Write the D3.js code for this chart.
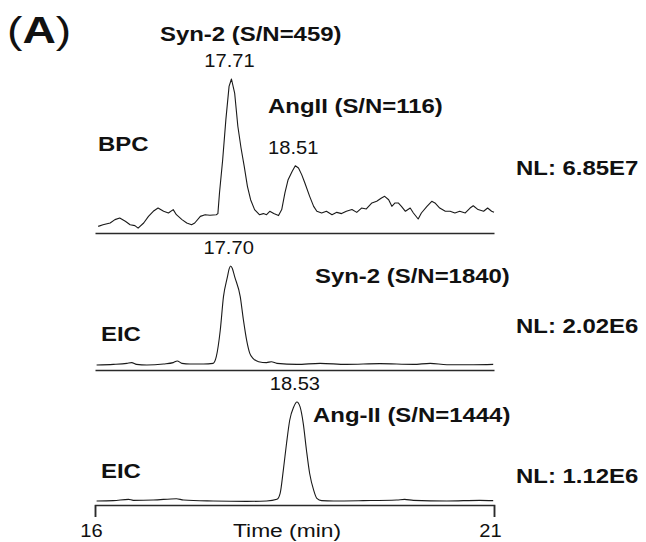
<!DOCTYPE html>
<html>
<head>
<meta charset="utf-8">
<script src="https://cdn.jsdelivr.net/npm/d3@7"></script>
<style>
  html, body { margin: 0; padding: 0; background: #fff; }
  svg { display: block; }
  text { font-family: "Liberation Sans", Arial, Helvetica, sans-serif; fill: #111; }
</style>
</head>
<body>
<svg id="chart" width="646" height="542"></svg>
<script>
// Retention time (min) and relative intensity (%) for each chromatogram trace
const bpcTime = [16.04,16.10,16.19,16.25,16.31,16.38,16.44,16.50,16.54,16.61,16.67,16.73,16.79,16.86,16.92,16.98,17.02,17.09,17.15,17.21,17.25,17.32,17.38,17.44,17.52,17.54,17.56,17.60,17.64,17.68,17.71,17.75,17.79,17.83,17.87,17.91,17.95,18.00,18.06,18.11,18.15,18.19,18.24,18.30,18.34,18.38,18.42,18.47,18.51,18.55,18.59,18.63,18.69,18.74,18.78,18.84,18.90,18.97,19.03,19.09,19.15,19.22,19.28,19.34,19.40,19.47,19.53,19.59,19.63,19.68,19.72,19.76,19.80,19.84,19.89,19.95,19.99,20.05,20.09,20.16,20.22,20.26,20.32,20.39,20.45,20.51,20.57,20.64,20.70,20.74,20.80,20.87,20.92,20.97,21.00];
const bpcInt  = [4.3,5.4,6.5,8.7,9.7,7.6,5.4,4.8,3.2,6.5,10.8,14.1,16.2,14.1,13.0,15.2,11.9,8.7,6.5,5.4,6.5,10.8,11.9,11.5,11.9,12.6,26.0,47.6,73.6,95.2,100,90.9,69.3,55.2,43.3,30.3,21.6,15.2,11.9,12.6,11.9,14.1,12.6,11.3,15.2,26.0,34.6,40.0,43.7,42.2,37.9,32.5,23.8,17.3,14.1,13.0,14.1,11.9,13.4,12.6,14.1,15.2,13.4,16.2,15.6,19.5,20.6,22.7,23.8,21.6,17.3,19.5,19.5,17.3,14.1,16.2,13.0,9.1,13.0,17.3,20.6,19.5,16.2,14.1,14.1,13.0,14.1,13.0,16.2,17.7,15.2,14.1,16.2,14.1,13.4];

const eicSynTime = [16.02,16.23,16.40,16.46,16.52,16.65,16.86,16.98,17.03,17.09,17.19,17.36,17.48,17.52,17.57,17.61,17.66,17.68,17.70,17.72,17.75,17.82,17.86,17.90,17.94,17.98,18.05,18.15,18.21,18.28,18.53,18.82,19.15,19.57,19.99,20.20,20.41,20.74,20.99];
const eicSynInt  = [4.8,5.4,6.4,7.1,5.4,4.8,5.8,7.1,8.7,6.4,5.8,5.8,6.4,12.8,38.5,70.5,89.7,97.0,100,97.8,89.7,70.5,48.1,28.8,16.0,11.2,8.0,7.1,8.0,6.4,5.4,6.4,5.4,6.1,5.4,6.4,5.1,5.1,5.4];

const eicAngTime = [16.02,16.23,16.42,16.48,16.73,17.02,17.11,17.48,17.90,18.15,18.28,18.32,18.36,18.40,18.44,18.49,18.53,18.57,18.61,18.65,18.69,18.74,18.78,18.84,18.99,19.36,19.78,19.88,19.99,20.41,20.82,20.99];
const eicAngInt  = [3.9,4.2,5.5,4.5,4.8,6.1,4.8,3.9,3.5,3.9,5.5,11.3,33.9,59.7,82.3,95.2,100,95.2,79.0,53.2,30.6,14.5,6.5,4.2,3.9,4.2,4.8,5.5,4.5,3.9,4.5,4.2];

// Panel labels
const traceNames   = ["BPC", "EIC", "EIC"];
const normLevels   = ["NL: 6.85E7", "NL: 2.02E6", "NL: 1.12E6"];
const peakTimes    = [[17.71, 18.51], [17.70], [18.53]];
const peakLabels   = [["17.71", "18.51"], ["17.70"], ["18.53"]];
const compoundTags = [["Syn-2 (S/N=459)", "AngII (S/N=116)"], ["Syn-2 (S/N=1840)"], ["Ang-II (S/N=1444)"]];
const xTicks       = [16, 21];
const xTitle       = "Time (min)";
const panelTitle   = "(A)";

const svg = d3.select("#chart");
const FONT_BOLD = 21, FONT_NUM = 19;
const SX_BOLD = 1.14, SX_NUM = 1.06, SX_TITLE = 1.2;

const x = d3.scaleLinear().domain([16, 21]).range([95, 494]);

// One y scale per trace: axis baseline pixel and 100% pixel
const panels = [
  { time: bpcTime,    inten: bpcInt,    y: d3.scaleLinear().domain([0, 100]).range([233, 79]),  curve: d3.curveLinear },
  { time: eicSynTime, inten: eicSynInt, y: d3.scaleLinear().domain([0, 100]).range([370, 266]), curve: d3.curveMonotoneX },
  { time: eicAngTime, inten: eicAngInt, y: d3.scaleLinear().domain([0, 100]).range([505, 402]), curve: d3.curveMonotoneX }
];

function stretchedText(g, str, px, py, size, weight, sx, anchor) {
  return g.append("text")
    .attr("transform", `translate(${px},${py}) scale(${sx},1)`)
    .attr("text-anchor", anchor || "start")
    .attr("font-size", size)
    .attr("font-weight", weight)
    .text(str);
}

panels.forEach((p, i) => {
  const g = svg.append("g").attr("class", "panel");
  const isLast = i === panels.length - 1;

  // time axis line for the panel
  const axis = d3.axisBottom(x).tickSizeOuter(0);
  if (isLast) {
    axis.tickValues(xTicks).tickSize(12).tickPadding(3).tickFormat(d3.format("d"));
  } else {
    axis.tickValues([]).tickSize(0);
  }
  const ag = g.append("g")
    .attr("transform", `translate(0,${p.y(0)})`)
    .call(axis);
  ag.select(".domain").attr("stroke", "#2a2a2a").attr("stroke-width", 1.6);
  ag.selectAll(".tick line").attr("stroke", "#2a2a2a").attr("stroke-width", 1.4);
  ag.selectAll(".tick text")
    .attr("font-size", FONT_NUM)
    .attr("fill", "#111")
    .attr("font-family", '"Liberation Sans", Arial, sans-serif')
    .attr("dy", "0.9em")
    .attr("transform", `translate(-4,0) scale(${SX_NUM},1)`);

  // chromatogram trace
  const line = d3.line()
    .x((d, k) => x(p.time[k]))
    .y((d) => p.y(d))
    .curve(p.curve);
  g.append("path")
    .datum(p.inten)
    .attr("d", line)
    .attr("fill", "none")
    .attr("stroke", "#1a1a1a")
    .attr("stroke-width", 1.1)
    .attr("stroke-linejoin", "round");

  // peak retention-time labels above each apex
  peakTimes[i].forEach((rt, k) => {
    const k0 = p.time.indexOf(rt);
    const top = p.y(p.inten[k0]);
    stretchedText(g, peakLabels[i][k], x(rt) - 2, top - 12, FONT_NUM, "normal", SX_NUM, "middle");
  });
});

// trace type and normalisation level labels
const traceLabelPos = [[98, 151], [101, 341], [101, 478]];
const nlPos = [[516, 175], [516, 333], [516, 483]];
traceNames.forEach((t, i) => {
  stretchedText(svg, t, traceLabelPos[i][0], traceLabelPos[i][1], FONT_BOLD, "bold", SX_BOLD);
  stretchedText(svg, normLevels[i], nlPos[i][0], nlPos[i][1], FONT_BOLD, "bold", SX_BOLD);
});

// compound annotations
const tagPos = [[[160, 41], [268, 113]], [[315, 283]], [[313, 422]]];
compoundTags.forEach((tags, i) => {
  tags.forEach((t, k) => {
    stretchedText(svg, t, tagPos[i][k][0], tagPos[i][k][1], FONT_BOLD, "bold", SX_BOLD);
  });
});

// axis title
stretchedText(svg, xTitle, 287, 537, FONT_NUM, "normal", SX_TITLE, "middle");

// panel letter
const pt = svg.append("text")
  .attr("transform", "translate(7,43) scale(1.25,1)")
  .attr("font-size", 37);
pt.append("tspan").attr("font-weight", "normal").text(panelTitle.slice(0, 1));
pt.append("tspan").attr("font-weight", "bold").text(panelTitle.slice(1, 2));
pt.append("tspan").attr("font-weight", "normal").text(panelTitle.slice(2));
</script>
</body>
</html>
